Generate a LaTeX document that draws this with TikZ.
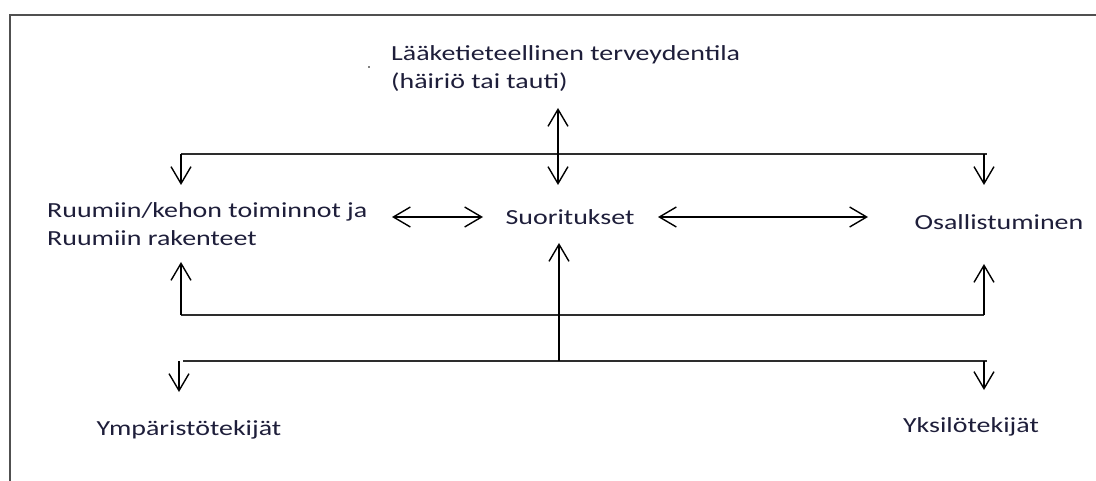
\documentclass[tikz,border=0pt]{standalone}
\usepackage{fontspec}
\setmainfont{Carlito}[FakeStretch=1.3]
\usetikzlibrary{arrows.meta}
\definecolor{txtcol}{RGB}{30,30,58}
\definecolor{framecol}{RGB}{80,80,80}
\definecolor{bracketcol}{RGB}{45,45,45}
\tikzset{
  lbl/.style={text=txtcol, inner sep=0pt, font=\fontsize{21.5}{28}\selectfont},
  arr/.style={draw=black, line width=1.4pt, -{Straight Barb[length=17pt,width=20pt,line width=1.4pt]}},
  darr/.style={draw=black, line width=1.4pt, {Straight Barb[length=17pt,width=20pt,line width=1.4pt]}-{Straight Barb[length=17pt,width=20pt,line width=1.4pt]}},
  bracket/.style={draw=bracketcol, line width=1.6pt},
  framel/.style={draw=framecol, line width=1.8pt}
}
\begin{document}
\begin{tikzpicture}[x=1pt,y=-1pt]
\useasboundingbox (0,0) rectangle (1096,481);
% frame
\coordinate (fA) at (10,481);
\coordinate (fB) at (10,15);
\coordinate (fC) at (1096,15);
\draw[framel] (fA) -- (fB) -- (fC);
% labels
\node[lbl, anchor=west, align=left] (lt) at (391,69) {Lääketieteellinen terveydentila\\(häiriö tai tauti)};
\node[lbl, anchor=west, align=left] (rk) at (47,224.5) {Ruumiin/kehon toiminnot ja\\Ruumiin rakenteet};
\node[lbl] (su) at (570,217) {Suoritukset};
\node[lbl] (os) at (999,222) {Osallistuminen};
\node[lbl] (ym) at (189,430) {Ympäristötekijät};
\node[lbl] (yk) at (971,427) {Yksilötekijät};
\fill[black] (369,67) circle (0.9pt);
% top bracket
\coordinate (t1) at (181,154);
\coordinate (t2) at (987,154);
\coordinate (t1d) at (181,185);
\coordinate (t2s) at (984,154);
\coordinate (t2d) at (984,185);
\draw[bracket] (t1) -- (t2);
\draw[arr] (t1) -- (t1d);
\draw[arr] (t2s) -- (t2d);
% vertical double arrow
\coordinate (v1) at (558,108);
\coordinate (v2) at (558,185);
\draw[darr] (v1) -- (v2);
% horizontal double arrows
\coordinate (h1) at (392,217);
\coordinate (h2) at (483,217);
\coordinate (h3) at (658,217);
\coordinate (h4) at (868,217);
\draw[darr] (h1) -- (h2);
\draw[darr] (h3) -- (h4);
% middle bracket
\coordinate (m1) at (181,315);
\coordinate (m2) at (984,315);
\coordinate (m1u) at (181,262);
\coordinate (m2u) at (984,264);
\draw[bracket] (m1) -- (m2);
\draw[arr] (m1) -- (m1u);
\draw[arr] (m2) -- (m2u);
% lower bracket
\coordinate (b1) at (179,361);
\coordinate (b1l) at (183,361);
\coordinate (b2) at (987,361);
\coordinate (b2s) at (984,361);
\coordinate (b1d) at (179,392);
\coordinate (b2d) at (984,390);
\draw[bracket] (b1l) -- (b2);
\draw[arr] (b1) -- (b1d);
\draw[arr] (b2s) -- (b2d);
% central up arrow
\coordinate (c1) at (559,361);
\coordinate (c2) at (559,243);
\draw[arr] (c1) -- (c2);
\end{tikzpicture}
\end{document}
